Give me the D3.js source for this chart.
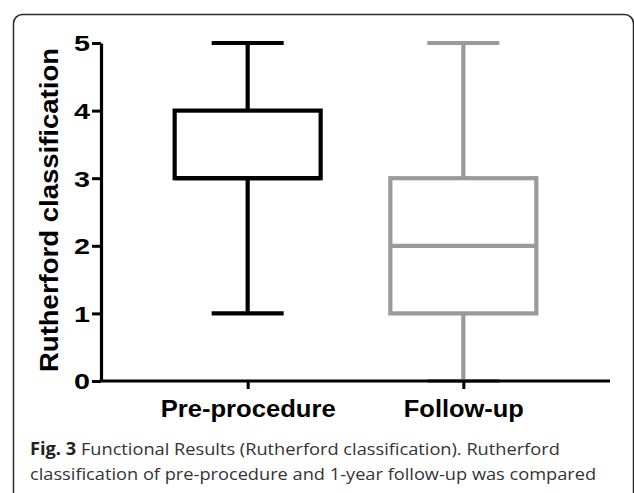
<!DOCTYPE html>
<html>
<head>
<meta charset="utf-8">
<script src="https://cdn.jsdelivr.net/npm/d3@7"></script>
<style>
html,body{margin:0;padding:0;background:#fff;}
svg{display:block;}
</style>
</head>
<body>
<svg id="chart" width="634" height="493"></svg>
<script>
const categories = ["Pre-procedure", "Follow-up"];
const mins = [1, 0];
const q1s = [3, 1];
const medians = [3, 2];
const q3s = [4, 3];
const maxs = [5, 5];
const colors = ["#000000", "#9a9a9a"];
const yTicks = [0, 1, 2, 3, 4, 5];
const yTitle = "Rutherford classification";
const captionBold = "Fig. 3";
const captionLine1 = " Functional Results (Rutherford classification). Rutherford";
const captionLine2 = "classification of pre-procedure and 1-year follow-up was compared";

const svg = d3.select("#chart");
const FONT = "'Liberation Sans', Arial, sans-serif";

// panel border
svg.append("rect")
  .attr("x", 13.5).attr("y", 14.5)
  .attr("width", 620).attr("height", 520)
  .attr("rx", 9).attr("ry", 9)
  .attr("fill", "#fff")
  .attr("stroke", "#2a2a2a").attr("stroke-width", 1.5);

const mLeft = 101, mRight = 610, mTop = 43, mBottom = 381;
const x = d3.scalePoint().domain(categories).range([mLeft, mRight]).padding(0.68);
const y = d3.scaleLinear().domain([0, 5]).range([mBottom, mTop]);

const boxW = 146, capW = 72;
const data = categories.map((c, i) => ({
  c, min: mins[i], q1: q1s[i], med: medians[i], q3: q3s[i], max: maxs[i], color: colors[i]
}));

const g = svg.append("g");
data.forEach(d => {
  const cx = x(d.c);
  const gg = g.append("g").attr("stroke", d.color).attr("stroke-width", 4.2).attr("fill", "none");
  gg.append("line").attr("x1", cx).attr("x2", cx).attr("y1", y(d.q3)).attr("y2", y(d.max));
  gg.append("line").attr("x1", cx).attr("x2", cx).attr("y1", y(d.q1)).attr("y2", y(d.min));
  gg.append("line").attr("x1", cx - capW/2).attr("x2", cx + capW/2).attr("y1", y(d.max)).attr("y2", y(d.max));
  gg.append("line").attr("x1", cx - capW/2).attr("x2", cx + capW/2).attr("y1", y(d.min)).attr("y2", y(d.min));
  gg.append("rect").attr("x", cx - boxW/2).attr("y", y(d.q3))
    .attr("width", boxW).attr("height", y(d.q1) - y(d.q3));
  gg.append("line").attr("x1", cx - boxW/2).attr("x2", cx + boxW/2)
    .attr("y1", y(d.med)).attr("y2", y(d.med));
});

// y axis
const yAxis = svg.append("g").attr("transform", `translate(${mLeft},0)`)
  .call(d3.axisLeft(y).tickValues(yTicks).tickFormat(d3.format("d")).tickSize(9).tickSizeOuter(0));
yAxis.select(".domain").attr("stroke", "#000").attr("stroke-width", 3.2);
yAxis.selectAll(".tick line").attr("stroke", "#000").attr("stroke-width", 3);
yAxis.selectAll(".tick text")
  .attr("font-family", FONT)
  .attr("font-weight", "bold").attr("font-size", 22).attr("fill", "#000")
  .attr("x", -11).attr("dy", "0.36em")
  .attr("textLength", 16).attr("lengthAdjust", "spacingAndGlyphs");

// x axis
const xAxis = svg.append("g").attr("transform", `translate(0,${mBottom})`)
  .call(d3.axisBottom(x).tickSize(8).tickSizeOuter(0));
xAxis.select(".domain").attr("stroke", "#000").attr("stroke-width", 3.2)
  .attr("d", `M${mLeft - 1.5},0H${mRight}`);
xAxis.selectAll(".tick line").attr("stroke", "#000").attr("stroke-width", 3);
const xLabelLen = {"Pre-procedure": 175, "Follow-up": 120};
xAxis.selectAll(".tick text")
  .attr("font-family", FONT)
  .attr("font-weight", "bold").attr("font-size", 23.5).attr("fill", "#000")
  .attr("y", 36).attr("dy", 0)
  .attr("textLength", d => xLabelLen[d]).attr("lengthAdjust", "spacingAndGlyphs");

// y title
svg.append("text")
  .attr("transform", `translate(58,210) rotate(-90)`)
  .attr("text-anchor", "middle")
  .attr("font-family", FONT)
  .attr("font-weight", "bold").attr("font-size", 25).attr("fill", "#000")
  .attr("textLength", 324).attr("lengthAdjust", "spacingAndGlyphs")
  .text(yTitle);

// caption
const cap = svg.append("g")
  .attr("transform", "translate(30,0) scale(1.072,1)")
  .attr("font-family", "'Open Sans', 'Noto Sans', sans-serif")
  .attr("font-size", 17).attr("fill", "#333");
const l1 = cap.append("text").attr("x", 0).attr("y", 455);
l1.append("tspan").attr("font-weight", "bold").attr("fill", "#222").text(captionBold);
l1.append("tspan").text(captionLine1);
cap.append("text").attr("x", 0).attr("y", 480).text(captionLine2);
</script>
</body>
</html>
